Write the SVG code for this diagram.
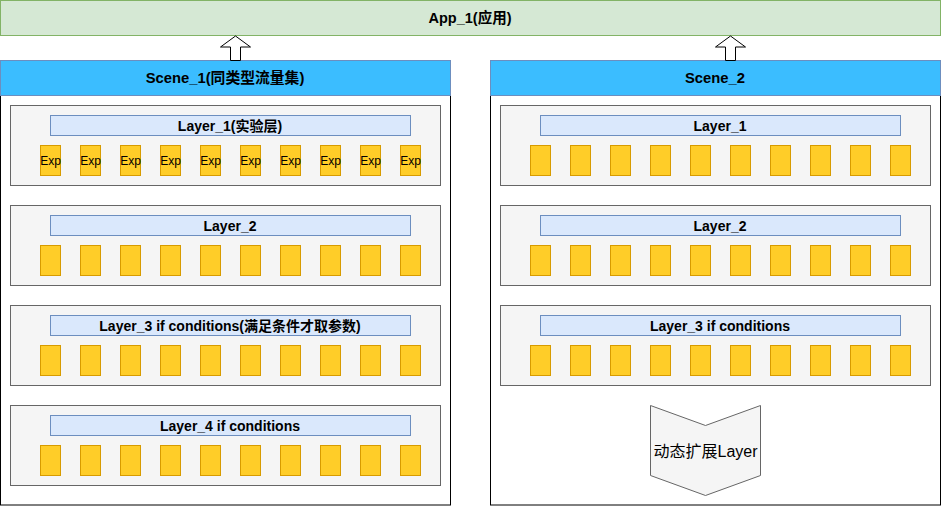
<svg xmlns="http://www.w3.org/2000/svg" width="941" height="506" viewBox="0 0 941 506">
<style>
text{font-family:"Liberation Sans","Noto Sans CJK SC",sans-serif;fill:#000;text-anchor:middle;dominant-baseline:central}
.b{font-weight:bold}
.app{fill:#d5e8d4;stroke:#82b366}
.scene{fill:#fff;stroke:#000}
.hdr{fill:#3bbdff;stroke:#6c8ebf}
.layer{fill:#f5f5f5;stroke:#666}
.lbl{fill:#dae8fc;stroke:#6c8ebf}
.exp{fill:#ffcd28;stroke:#d79b00}
.arrow{fill:#fff;stroke:#000;stroke-width:1}
.chev{fill:#f5f5f5;stroke:#666}
</style>
<defs>
<g id="row">
<rect class="exp" x="0.5" y="0.5" width="20" height="30"/>
<rect class="exp" x="40.5" y="0.5" width="20" height="30"/>
<rect class="exp" x="80.5" y="0.5" width="20" height="30"/>
<rect class="exp" x="120.5" y="0.5" width="20" height="30"/>
<rect class="exp" x="160.5" y="0.5" width="20" height="30"/>
<rect class="exp" x="200.5" y="0.5" width="20" height="30"/>
<rect class="exp" x="240.5" y="0.5" width="20" height="30"/>
<rect class="exp" x="280.5" y="0.5" width="20" height="30"/>
<rect class="exp" x="320.5" y="0.5" width="20" height="30"/>
<rect class="exp" x="360.5" y="0.5" width="20" height="30"/>
</g>
</defs>

<g id="app1">
<rect class="app" x="0.5" y="0.5" width="940" height="35"/>
<text class="b" x="470" y="18" font-size="14.5">App_1(应用)</text>
</g>

<g id="scene1">
<rect class="scene" x="0.5" y="60.5" width="450" height="444.5"/>
<rect class="hdr" x="0.5" y="60.5" width="450" height="35"/>
<text class="b" x="225" y="78" font-size="14.8">Scene_1(同类型流量集)</text>
</g>

<g id="scene2">
<rect class="scene" x="490.5" y="60.5" width="450" height="444.5"/>
<rect class="hdr" x="490.5" y="60.5" width="450" height="35"/>
<text class="b" x="715" y="78" font-size="14.8">Scene_2</text>
</g>

<g id="s1-layer1">
<rect class="layer" x="10.5" y="105.5" width="430" height="80"/>
<rect class="lbl" x="50.5" y="115.5" width="360" height="20"/>
<text class="b" x="230" y="126" font-size="14">Layer_1(实验层)</text>
<use href="#row" x="40" y="145"/>
<g font-size="12">
<text x="50.5" y="161">Exp</text><text x="90.5" y="161">Exp</text><text x="130.5" y="161">Exp</text><text x="170.5" y="161">Exp</text><text x="210.5" y="161">Exp</text><text x="250.5" y="161">Exp</text><text x="290.5" y="161">Exp</text><text x="330.5" y="161">Exp</text><text x="370.5" y="161">Exp</text><text x="410.5" y="161">Exp</text>
</g>
</g>

<g id="s1-layer2">
<rect class="layer" x="10.5" y="205.5" width="430" height="80"/>
<rect class="lbl" x="50.5" y="215.5" width="360" height="20"/>
<text class="b" x="230" y="226" font-size="14">Layer_2</text>
<use href="#row" x="40" y="245"/>
</g>

<g id="s1-layer3">
<rect class="layer" x="10.5" y="305.5" width="430" height="80"/>
<rect class="lbl" x="50.5" y="315.5" width="360" height="20"/>
<text class="b" x="230" y="326" font-size="14">Layer_3 if conditions(满足条件才取参数)</text>
<use href="#row" x="40" y="345"/>
</g>

<g id="s1-layer4">
<rect class="layer" x="10.5" y="405.5" width="430" height="80"/>
<rect class="lbl" x="50.5" y="415.5" width="360" height="20"/>
<text class="b" x="230" y="426" font-size="14">Layer_4 if conditions</text>
<use href="#row" x="40" y="445"/>
</g>

<g id="s2-layer1">
<rect class="layer" x="500.5" y="105.5" width="430" height="80"/>
<rect class="lbl" x="540.5" y="115.5" width="360" height="20"/>
<text class="b" x="720" y="126" font-size="14">Layer_1</text>
<use href="#row" x="530" y="145"/>
</g>

<g id="s2-layer2">
<rect class="layer" x="500.5" y="205.5" width="430" height="80"/>
<rect class="lbl" x="540.5" y="215.5" width="360" height="20"/>
<text class="b" x="720" y="226" font-size="14">Layer_2</text>
<use href="#row" x="530" y="245"/>
</g>

<g id="s2-layer3">
<rect class="layer" x="500.5" y="305.5" width="430" height="80"/>
<rect class="lbl" x="540.5" y="315.5" width="360" height="20"/>
<text class="b" x="720" y="326" font-size="14">Layer_3 if conditions</text>
<use href="#row" x="530" y="345"/>
</g>

<g id="dynamic-layer">
<polygon class="chev" points="650.5,405.5 705.5,425.5 760.5,405.5 760.5,475.5 705.5,495.5 650.5,475.5"/>
<text x="705.5" y="451" font-size="16">动态扩展Layer</text>
</g>

<g id="connectors">
<polygon class="arrow" points="235.5,36 250.5,47 240.5,47 240.5,60.5 230.5,60.5 230.5,47 220.5,47"/>
<polygon class="arrow" points="730.5,36 745.5,47 735.5,47 735.5,60.5 725.5,60.5 725.5,47 715.5,47"/>
</g>
</svg>
